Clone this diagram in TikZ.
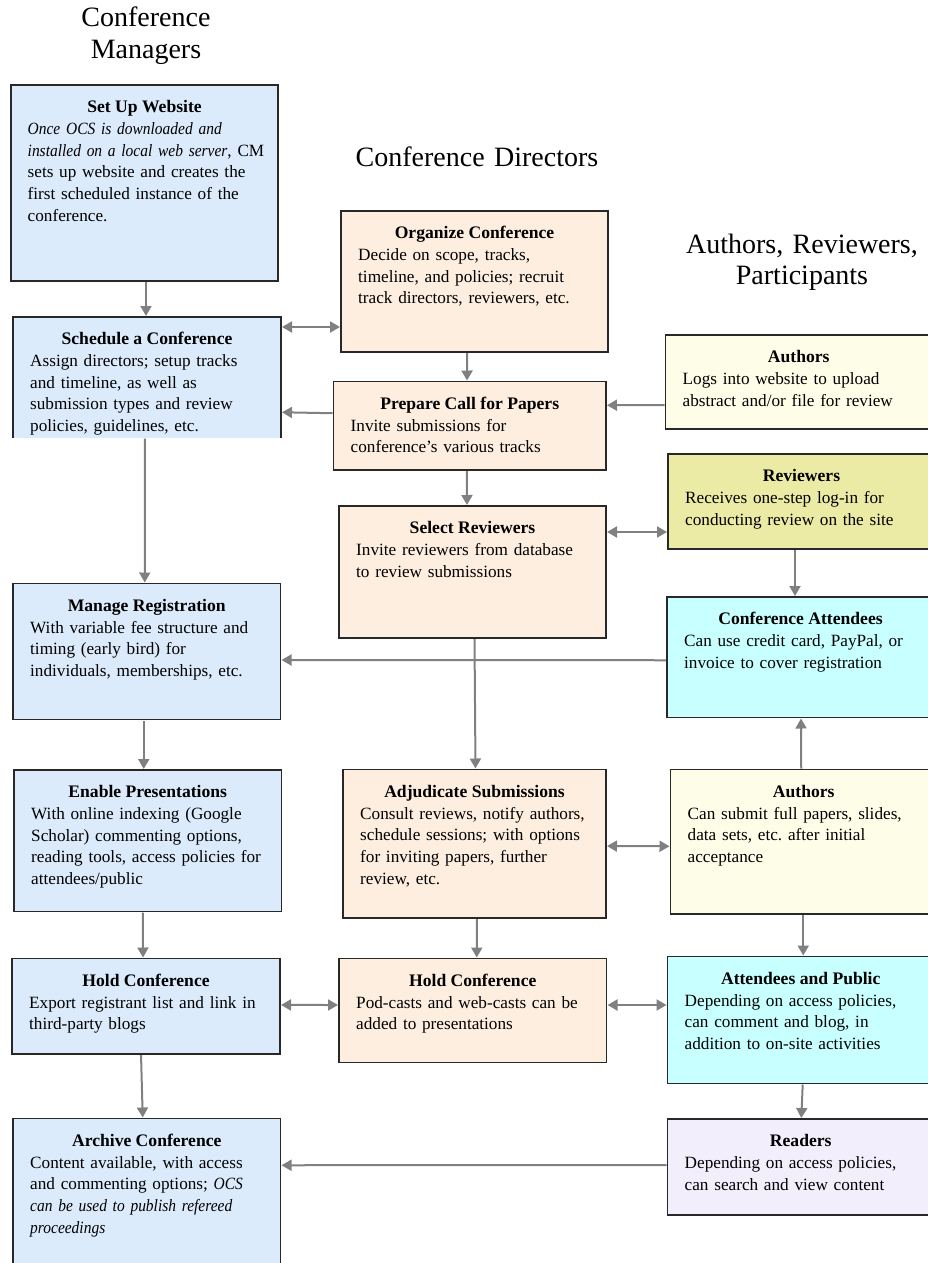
\documentclass[tikz,border=0pt]{standalone}
\usepackage{fontspec}
\setmainfont{Liberation Serif}[ItalicFeatures={FakeStretch=0.9}]
\usetikzlibrary{arrows.meta,fit}
\definecolor{cblue}{RGB}{220,235,252}
\definecolor{cpeach}{RGB}{253,238,223}
\definecolor{cyell}{RGB}{254,254,232}
\definecolor{crev}{RGB}{236,235,166}
\definecolor{ccyan}{RGB}{200,255,255}
\definecolor{clav}{RGB}{243,238,252}
\definecolor{cborder}{RGB}{40,40,40}
\definecolor{carrow}{RGB}{128,128,128}
\frenchspacing
\begin{document}
\begin{tikzpicture}[x=1pt,y=-1pt,
  box/.style={draw=cborder, line width=1.3pt, inner sep=0pt, outer sep=0pt},
  boxfill/.style={inner sep=0pt, outer sep=0pt},
  border/.style={draw=cborder, line width=1.3pt},
  ttl/.style={anchor=base, inner sep=0pt, font=\fontsize{17.6}{21.7}\selectfont\bfseries},
  bod/.style={anchor=base west, inner sep=0pt, text width=300pt, align=left, font=\fontsize{17.2}{21.7}\selectfont},
  hdr/.style={anchor=base, inner sep=0pt, text width=280pt, align=center, font=\fontsize{28}{31.5}\selectfont},
  arr/.style={draw=carrow, line width=2pt, -{Triangle[length=10pt,width=11pt]}, shorten >=1pt, shorten <=1pt},
  darr/.style={draw=carrow, line width=2pt, {Triangle[length=10pt,width=11pt]}-{Triangle[length=10pt,width=11pt]}, shorten >=1pt, shorten <=1pt}
]
\useasboundingbox (0,0) rectangle (927,1263);

% headers
\node[hdr] (hcm) at (146,27) {Conference\\Managers};
\node[hdr] (hcd) at (477,166) {Conference Directors};
\node[hdr] (har) at (802,253) {Authors, Reviewers,\\Participants};

% boxes
\node[box, fill=cblue, fit={(11,85) (278,281)}] (setup) {};
\node[boxfill, fill=cblue, fit={(13,317) (281,437.5)}] (sched) {};
\draw[border] (sched.south west) -- (sched.north west) -- (sched.north east) -- (sched.south east);
\node[box, fill=cpeach, fit={(341,211) (608,352)}] (org) {};
\node[box, fill=cpeach, fit={(333.5,381.5) (606,470)}] (prep) {};
\node[box, fill=cyell, fit={(665.5,335) (932,429)}] (auth1) {};
\node[box, fill=crev, fit={(668,454) (935,549)}] (rev) {};
\node[box, fill=cpeach, fit={(339,506) (606,638)}] (sel) {};
\node[box, fill=ccyan, fit={(667,597) (934,717.5)}] (att) {};
\node[box, fill=cblue, fit={(13,583.5) (280.5,719.5)}] (mreg) {};
\node[box, fill=cblue, fit={(14,770) (281.5,911.5)}] (enab) {};
\node[box, fill=cpeach, fit={(343,769.5) (606,918)}] (adj) {};
\node[box, fill=cyell, fit={(670.5,769.5) (937,914)}] (auth2) {};
\node[box, fill=cblue, fit={(12,958.5) (280,1054)}] (holdL) {};
\node[box, fill=cpeach, fit={(339,958.5) (606.5,1062.5)}] (holdM) {};
\node[box, fill=ccyan, fit={(667.5,956.5) (934,1083.5)}] (attp) {};
\node[box, fill=cblue, fit={(13,1118.5) (280.5,1290)}] (arch) {};
\node[box, fill=clav, fit={(667.5,1119) (934,1215)}] (read) {};

% texts
\node[ttl] (t1) at ([yshift=-27.5pt]setup.north) {Set Up Website};
\node[bod] (b1) at ([xshift=16.5pt,yshift=-49.5pt]setup.north west) {\textit{Once OCS is downloaded and}\\\textit{installed on a local web server}, CM\\sets up website and creates the\\first scheduled instance of the\\conference.};

\begin{scope}
\clip (sched.south west) rectangle (sched.north east);
\node[ttl] (t2) at ([yshift=-27.5pt]sched.north) {Schedule a Conference};
\node[bod] (b2) at ([xshift=17pt,yshift=-49.5pt]sched.north west) {Assign directors; setup tracks\\and timeline, as well as\\submission types and review\\policies, guidelines, etc.};
\end{scope}

\node[ttl] (t3) at ([yshift=-27.5pt]org.north) {Organize Conference};
\node[bod] (b3) at ([xshift=17pt,yshift=-49.5pt]org.north west) {Decide on scope, tracks,\\timeline, and policies; recruit\\track directors, reviewers, etc.};

\node[ttl] (t4) at ([yshift=-27.5pt]prep.north) {Prepare Call for Papers};
\node[bod] (b4) at ([xshift=17pt,yshift=-49.5pt]prep.north west) {Invite submissions for\\conference’s various tracks};

\node[ttl] (t5) at ([yshift=-27.5pt]auth1.north) {Authors};
\node[bod] (b5) at ([xshift=17pt,yshift=-49.5pt]auth1.north west) {Logs into website to upload\\abstract and/or file for review};

\node[ttl] (t6) at ([yshift=-27.5pt]rev.north) {Reviewers};
\node[bod] (b6) at ([xshift=17pt,yshift=-49.5pt]rev.north west) {Receives one-step log-in for\\conducting review on the site};

\node[ttl] (t7) at ([yshift=-27.5pt]sel.north) {Select Reviewers};
\node[bod] (b7) at ([xshift=17pt,yshift=-49.5pt]sel.north west) {Invite reviewers from database\\to review submissions};

\node[ttl] (t8) at ([yshift=-27.5pt]att.north) {Conference Attendees};
\node[bod] (b8) at ([xshift=17pt,yshift=-49.5pt]att.north west) {Can use credit card, PayPal, or\\invoice to cover registration};

\node[ttl] (t9) at ([yshift=-27.5pt]mreg.north) {Manage Registration};
\node[bod] (b9) at ([xshift=17pt,yshift=-49.5pt]mreg.north west) {With variable fee structure and\\timing (early bird) for\\individuals, memberships, etc.};

\node[ttl] (t10) at ([yshift=-27.5pt]enab.north) {Enable Presentations};
\node[bod] (b10) at ([xshift=17pt,yshift=-49.5pt]enab.north west) {With online indexing (Google\\Scholar) commenting options,\\reading tools, access policies for\\attendees/public};

\node[ttl] (t11) at ([yshift=-27.5pt]adj.north) {Adjudicate Submissions};
\node[bod] (b11) at ([xshift=17pt,yshift=-49.5pt]adj.north west) {Consult reviews, notify authors,\\schedule sessions; with options\\for inviting papers, further\\review, etc.};

\node[ttl] (t12) at ([yshift=-27.5pt]auth2.north) {Authors};
\node[bod] (b12) at ([xshift=17pt,yshift=-49.5pt]auth2.north west) {Can submit full papers, slides,\\data sets, etc. after initial\\acceptance};

\node[ttl] (t13) at ([yshift=-27.5pt]holdL.north) {Hold Conference};
\node[bod] (b13) at ([xshift=17pt,yshift=-49.5pt]holdL.north west) {Export registrant list and link in\\third-party blogs};

\node[ttl] (t14) at ([yshift=-27.5pt]holdM.north) {Hold Conference};
\node[bod] (b14) at ([xshift=17pt,yshift=-49.5pt]holdM.north west) {Pod-casts and web-casts can be\\added to presentations};

\node[ttl] (t15) at ([yshift=-27.5pt]attp.north) {Attendees and Public};
\node[bod] (b15) at ([xshift=17pt,yshift=-49.5pt]attp.north west) {Depending on access policies,\\can comment and blog, in\\addition to on-site activities};

\node[ttl] (t16) at ([yshift=-27.5pt]arch.north) {Archive Conference};
\node[bod] (b16) at ([xshift=17pt,yshift=-49.5pt]arch.north west) {Content available, with access\\and commenting options; \textit{OCS}\\\textit{can be used to publish refereed}\\\textit{proceedings}};

\node[ttl] (t17) at ([yshift=-27.5pt]read.north) {Readers};
\node[bod] (b17) at ([xshift=17pt,yshift=-49.5pt]read.north west) {Depending on access policies,\\can search and view content};

% connectors
\draw[arr] ([xshift=1.5pt]setup.south) -- ([xshift=-1pt]sched.north);
\draw[darr] ([yshift=-10pt]sched.north east) -- ([yshift=-45.5pt]org.west);
\draw[arr] ([yshift=12.5pt]prep.west) -- ([yshift=-35pt]sched.east);
\draw[arr] ([xshift=-7.5pt]org.south) -- ([xshift=-2.7pt]prep.north);
\draw[arr] ([yshift=-23pt]auth1.west) -- ([yshift=20.5pt]prep.east);
\draw[arr] ([xshift=-3pt]prep.south) -- ([xshift=-5.5pt]sel.north);
\draw[darr] ([yshift=40pt]sel.east) -- ([yshift=-30.5pt]rev.west);
\draw[arr] ([xshift=-6.5pt]rev.south) -- ([xshift=-5.5pt]att.north);
\draw[arr] ([yshift=-3pt]att.west) -- ([yshift=-8.5pt]mreg.east);
\draw[arr] ([xshift=-2pt]sched.south) -- ([xshift=-2pt]mreg.north);
\draw[arr] ([xshift=-3pt]mreg.south) -- ([xshift=-4pt]enab.north);
\draw[arr] ([xshift=2pt]sel.south) -- ([xshift=1pt]adj.north);
\draw[arr] ([xshift=-2.5pt]auth2.north) -- ([xshift=0.5pt]att.south);
\draw[darr] ([yshift=-2.3pt]adj.east) -- ([yshift=-4.5pt]auth2.west);
\draw[arr] ([xshift=-5pt]enab.south) -- ([xshift=-3pt]holdL.north);
\draw[arr] ([xshift=2.3pt]adj.south) -- ([xshift=4pt]holdM.north);
\draw[darr] ([yshift=1.3pt]holdL.east) -- ([yshift=5.5pt]holdM.west);
\draw[darr] ([yshift=5.5pt]holdM.east) -- ([yshift=15pt]attp.west);
\draw[arr] ([xshift=-0.5pt]auth2.south) -- ([xshift=2.5pt]attp.north);
\draw[arr] ([xshift=-5pt]holdL.south) -- ([xshift=-4pt]arch.north);
\draw[arr] ([xshift=2pt]attp.south) -- ([xshift=0.5pt]read.north);
\draw[arr] ([yshift=2pt]read.west) -- ([yshift=39pt]arch.east);
\end{tikzpicture}
\end{document}
